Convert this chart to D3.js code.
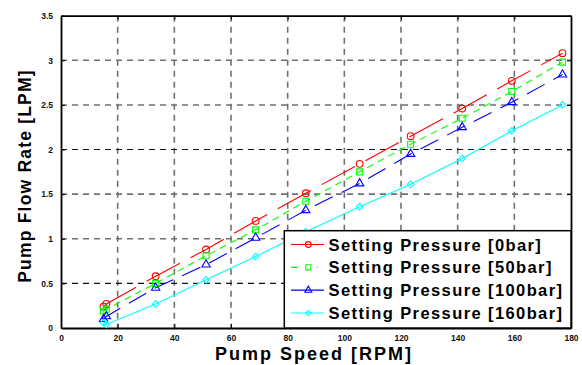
<!DOCTYPE html>
<html>
<head>
<meta charset="utf-8">
<script src="https://cdn.jsdelivr.net/npm/d3@7"></script>
<style>
  body { margin: 0; background: #fff; }
  svg { display: block; font-family: Arial, "Liberation Sans", sans-serif; }
</style>
</head>
<body>
<div id="chart"></div>
<script>
// values
const speed = [15, 16, 33.4, 51.2, 68.7, 86.4, 105.4, 123.4, 141.6, 159.1, 177];
const flow0 = [0.24, 0.27, 0.58, 0.88, 1.20, 1.51, 1.84, 2.15, 2.46, 2.77, 3.08];
const flow50 = [0.19, 0.21, 0.50, 0.81, 1.10, 1.42, 1.75, 2.06, 2.35, 2.65, 2.98];
const flow100 = [0.10, 0.13, 0.45, 0.71, 1.01, 1.32, 1.62, 1.95, 2.25, 2.53, 2.84];
const flow160 = [0.06, 0.04, 0.27, 0.54, 0.80, 1.08, 1.36, 1.61, 1.90, 2.21, 2.50];
const seriesNames = ["Setting Pressure [0bar]", "Setting Pressure [50bar]", "Setting Pressure [100bar]", "Setting Pressure [160bar]"];
const xTicks = [0, 20, 40, 60, 80, 100, 120, 140, 160, 180];
const yTicks = [0, 0.5, 1, 1.5, 2, 2.5, 3, 3.5];

const W = 582, H = 365;
const plot = { left: 61, right: 571, top: 15.7, bottom: 328 };

const series = [
    { name: seriesNames[0], values: flow0, color: "#ff0000", dash: "38,12", marker: "circle" },
    { name: seriesNames[1], values: flow50, color: "#00ff00", dash: "7,5", marker: "square" },
    { name: seriesNames[2], values: flow100, color: "#0000ff", dash: "20,10", marker: "triangle" },
    { name: seriesNames[3], values: flow160, color: "#00ffff", dash: null, marker: "diamond" }
];

const svg = d3.select("#chart").append("svg")
    .attr("width", W)
    .attr("height", H);

const x = d3.scaleLinear().domain([0, 180]).range([plot.left, plot.right]);
const y = d3.scaleLinear().domain([0, 3.5]).range([plot.bottom, plot.top]);

// grid lines
const grid = svg.append("g").attr("class", "grid");
grid.selectAll("line.gx")
    .data(xTicks.slice(1, -1))
    .join("line")
    .attr("x1", d => x(d)).attr("x2", d => x(d))
    .attr("y1", plot.top).attr("y2", plot.bottom)
    .attr("stroke", "#707070").attr("stroke-width", 1.6)
    .attr("stroke-dasharray", "6,5");
grid.selectAll("line.gy")
    .data(yTicks.slice(1, -1))
    .join("line")
    .attr("y1", d => y(d)).attr("y2", d => y(d))
    .attr("x1", plot.left).attr("x2", plot.right)
    .attr("stroke", d => (d == 0.5 || d == 2) ? "#111" : "#707070")
    .attr("stroke-width", d => (d == 0.5 || d == 2) ? 1.1 : 1.6)
    .attr("stroke-dasharray", "6,5");

// axes
svg.append("g")
    .attr("transform", `translate(0,${plot.bottom})`)
    .call(d3.axisBottom(x).tickValues(xTicks).tickSizeInner(-4).tickSizeOuter(0).tickPadding(7));
svg.append("g")
    .attr("transform", `translate(${plot.left},0)`)
    .call(d3.axisLeft(y).tickValues(yTicks).tickFormat(d3.format("")).tickSizeInner(-4).tickSizeOuter(0).tickPadding(8));
svg.append("g")
    .attr("transform", `translate(0,${plot.top})`)
    .call(d3.axisTop(x).tickValues(xTicks).tickSizeInner(-4).tickSizeOuter(0).tickFormat(""));
svg.append("g")
    .attr("transform", `translate(${plot.right},0)`)
    .call(d3.axisRight(y).tickValues(yTicks).tickSizeInner(-4).tickSizeOuter(0).tickFormat(""));

svg.selectAll(".domain").attr("stroke", "#000").attr("stroke-width", 1.8);
svg.selectAll(".tick line").attr("stroke", "#000").attr("stroke-width", 1);
svg.selectAll(".tick text")
    .attr("font-size", 8.5)
    .attr("font-weight", "bold")
    .attr("font-family", "Arial, 'Liberation Sans', sans-serif")
    .attr("fill", "#111");

// series lines
const lineGen = d3.line().x((d, i) => x(speed[i])).y(d => y(d));
const lines = svg.append("g");
series.forEach(s => {
    lines.append("path")
        .datum(s.values)
        .attr("d", lineGen)
        .attr("fill", "none")
        .attr("stroke", s.color)
        .attr("stroke-width", 1.1)
        .attr("stroke-dasharray", s.dash);
});

// matlab style markers; diamond is a square turned 45 degrees
const symbolType = { circle: d3.symbolCircle, square: d3.symbolSquare, triangle: d3.symbolTriangle, diamond: d3.symbolSquare };
const symbolSize = { circle: 36, square: 36, triangle: 30, diamond: 22 };
const markerTransform = (m, px, py) => `translate(${px},${py})` + (m == "diamond" ? " rotate(45)" : "");

const markers = svg.append("g");
series.forEach(s => {
    markers.append("g").selectAll("path")
        .data(s.values)
        .join("path")
        .attr("d", d3.symbol().type(symbolType[s.marker]).size(symbolSize[s.marker]))
        .attr("transform", (d, i) => markerTransform(s.marker, x(speed[i]), y(d)))
        .attr("fill", "none")
        .attr("stroke", s.color)
        .attr("stroke-width", 1.1);
});

// legend
const lg = svg.append("g");
lg.append("rect")
    .attr("x", 284.3).attr("y", 230.7)
    .attr("width", plot.right - 284.3).attr("height", plot.bottom - 230.7)
    .attr("fill", "#fff").attr("stroke", "#000").attr("stroke-width", 1.5);

const rowY = d3.scalePoint().domain(seriesNames).range([244.5, 313]);
series.forEach(s => {
    const cy = rowY(s.name);
    lg.append("line")
        .attr("x1", 291).attr("x2", 324)
        .attr("y1", cy).attr("y2", cy)
        .attr("stroke", s.color).attr("stroke-width", 1.1)
        .attr("stroke-dasharray", s.marker == "square" ? "7,7,0,12,1,20" : null);
    lg.append("path")
        .attr("d", d3.symbol().type(symbolType[s.marker]).size(symbolSize[s.marker] * 0.7))
        .attr("transform", markerTransform(s.marker, 308.3, cy))
        .attr("fill", "none").attr("stroke", s.color).attr("stroke-width", 1.1);
    lg.append("text")
        .attr("x", 328.5).attr("y", cy + 6)
        .attr("font-size", 16.5)
        .attr("font-weight", "bold")
        .attr("letter-spacing", 1.4)
        .text(s.name);
});

// axis titles
svg.append("text")
    .attr("x", (plot.left + plot.right) / 2 - 2)
    .attr("y", 359.5)
    .attr("text-anchor", "middle")
    .attr("font-size", 18)
    .attr("font-weight", "bold")
    .attr("letter-spacing", 2)
    .text("Pump Speed [RPM]");

svg.append("text")
    .attr("transform", "translate(31,176) rotate(-90)")
    .attr("text-anchor", "middle")
    .attr("font-size", 17.5)
    .attr("font-weight", "bold")
    .attr("letter-spacing", 1.2)
    .text("Pump Flow Rate [LPM]");
</script>
</body>
</html>
